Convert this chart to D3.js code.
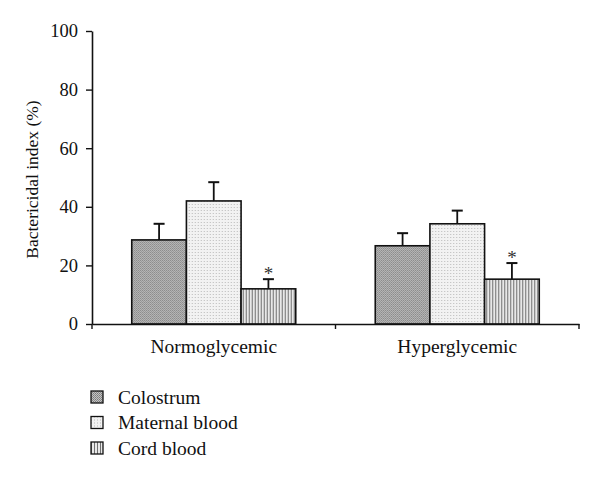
<!DOCTYPE html>
<html><head><meta charset="utf-8">
<script src="https://cdn.jsdelivr.net/npm/d3@7"></script>
<style>body{margin:0;background:#fff}svg{display:block}</style>
</head><body>
<script>
const groups = ["Normoglycemic", "Hyperglycemic"];
const seriesNames = ["Colostrum", "Maternal blood", "Cord blood"];
const means = [[28.7, 42.0, 12.0], [26.7, 34.2, 15.3]];
const errs = [[5.5, 6.4, 3.3], [4.3, 4.5, 5.5]];
const signif = [[false, false, true], [false, false, true]];
const yTicks = [0, 20, 40, 60, 80, 100];

const W = 600, H = 479;
const svg = d3.select("body").append("svg").attr("width", W).attr("height", H);
const font = "'Liberation Serif', 'Times New Roman', serif";
const defs = svg.append("defs");

// Patterns
const p1 = defs.append("pattern").attr("id", "pat0").attr("width", 2).attr("height", 2).attr("patternUnits", "userSpaceOnUse");
p1.append("rect").attr("width", 2).attr("height", 2).attr("fill", "#c4c4c4");
p1.append("rect").attr("width", 1).attr("height", 1).attr("fill", "#7a7a7a");
p1.append("rect").attr("x", 1).attr("y", 1).attr("width", 1).attr("height", 1).attr("fill", "#8a8a8a");

const p2 = defs.append("pattern").attr("id", "pat1").attr("width", 3).attr("height", 3).attr("patternUnits", "userSpaceOnUse");
p2.append("rect").attr("width", 3).attr("height", 3).attr("fill", "#f2f2f2");
p2.append("rect").attr("width", 1).attr("height", 1).attr("fill", "#b8b8b8");

const p3 = defs.append("pattern").attr("id", "pat2").attr("width", 3).attr("height", 3).attr("patternUnits", "userSpaceOnUse");
p3.append("rect").attr("width", 3).attr("height", 3).attr("fill", "#e8e8e8");
p3.append("rect").attr("width", 1).attr("height", 3).attr("fill", "#707070");

const m = {left: 92, right: 579, top: 31, bottom: 324};
const y = d3.scaleLinear().domain([0, 100]).range([m.bottom, m.top]);
const x0 = d3.scaleBand().domain(groups).range([m.left, m.right]).paddingInner(0).paddingOuter(0);
const x1 = d3.scaleBand().domain(seriesNames).range([0, 164]);
const groupOffset = (x0.bandwidth() - 164) / 2;

// bars
groups.forEach((g, gi) => {
  const gEl = svg.append("g").attr("transform", `translate(${x0(g) + groupOffset},0)`);
  seriesNames.forEach((s, si) => {
    const v = means[gi][si], e = errs[gi][si];
    const bx = x1(s), bw = x1.bandwidth(), cx = bx + bw / 2;
    gEl.append("line").attr("x1", cx).attr("x2", cx).attr("y1", y(v)).attr("y2", y(v + e))
      .attr("stroke", "#111").attr("stroke-width", 1.8);
    gEl.append("line").attr("x1", cx - 5.5).attr("x2", cx + 5.5).attr("y1", y(v + e)).attr("y2", y(v + e))
      .attr("stroke", "#111").attr("stroke-width", 2);
    gEl.append("rect").attr("x", bx).attr("y", y(v)).attr("width", bw).attr("height", y(0) - y(v))
      .attr("fill", `url(#pat${si})`).attr("stroke", "#111").attr("stroke-width", 1.6);
    if (signif[gi][si]) {
      gEl.append("text").attr("x", cx).attr("y", y(v + e) + 1).attr("text-anchor", "middle")
        .attr("font-family", font).attr("font-size", 19).attr("fill", "#333").text("*");
    }
  });
});

// y axis
const yAxis = svg.append("g").attr("transform", `translate(${m.left},0)`)
  .call(d3.axisLeft(y).tickValues(yTicks).tickSize(6).tickPadding(8).tickSizeOuter(0));
yAxis.select(".domain").attr("stroke", "#111").attr("stroke-width", 1.6);
yAxis.selectAll(".tick line").attr("stroke", "#111").attr("stroke-width", 1.4);
yAxis.selectAll(".tick text").attr("font-family", font).attr("font-size", 18.5).attr("fill", "#111");

// x axis
const xAxis = svg.append("g").attr("transform", `translate(0,${m.bottom})`)
  .call(d3.axisBottom(x0).tickSize(0).tickPadding(15));
xAxis.select(".domain").attr("stroke", "#111").attr("stroke-width", 1.6);
xAxis.selectAll(".tick text").attr("font-family", font).attr("font-size", 19.5).attr("fill", "#111");
[m.left, x0(groups[1]), m.right].forEach(t => {
  svg.append("line").attr("x1", t).attr("x2", t).attr("y1", m.bottom).attr("y2", m.bottom + 5)
    .attr("stroke", "#111").attr("stroke-width", 1.4);
});

// y label
svg.append("text").attr("transform", `translate(38,${(m.top + m.bottom) / 2 + 2}) rotate(-90)`)
  .attr("text-anchor", "middle").attr("font-family", font).attr("font-size", 17.5).attr("fill", "#111")
  .text("Bactericidal index (%)");

// legend
const leg = svg.append("g").attr("transform", "translate(91,391)");
seriesNames.forEach((s, i) => {
  const r = leg.append("g").attr("transform", `translate(0,${i * 25.5})`);
  r.append("rect").attr("x", 0).attr("y", 0).attr("width", 12).attr("height", 12)
    .attr("fill", `url(#pat${i})`).attr("stroke", "#111").attr("stroke-width", 1.3);
  r.append("text").attr("x", 27).attr("y", 12.5).attr("font-family", font).attr("font-size", 19.5)
    .attr("fill", "#111").text(s);
});
</script>
</body></html>
